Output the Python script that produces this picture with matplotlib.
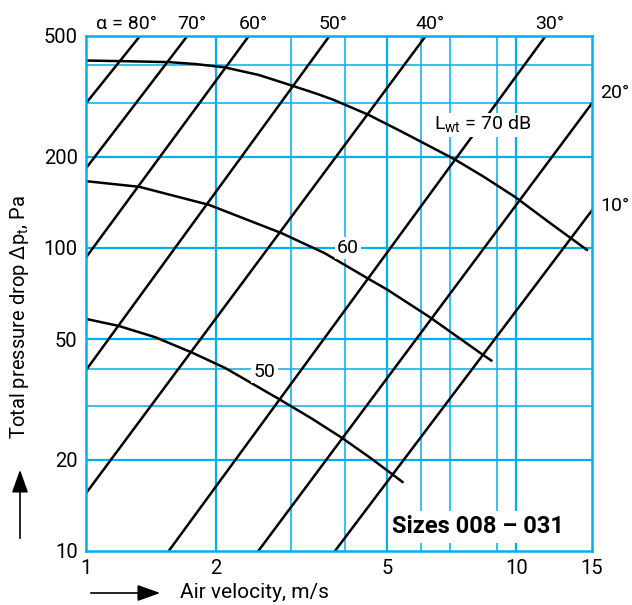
import matplotlib
matplotlib.use('Agg')
import matplotlib.pyplot as plt
from matplotlib.patches import FancyArrowPatch

plt.rcParams['font.family'] = ['Roboto', 'DejaVu Sans']
plt.rcParams['mathtext.fontset'] = 'custom'
plt.rcParams['mathtext.rm'] = 'Roboto'

# angle lines (alpha), given by two end points (v in m/s, dp in Pa)
angles = ['80°', '70°', '60°', '50°', '40°', '30°', '20°', '10°']
ang_v0 = [1.0, 1.0, 1.0, 1.0, 1.0, 1.557, 2.515, 3.79]
ang_p0 = [300, 183, 93, 39.5, 15.5, 10, 10, 10]
ang_v1 = [1.335, 1.72, 2.39, 3.68, 6.16, 11.7, 15.0, 15.0]
ang_p1 = [500, 500, 500, 500, 500, 500, 300, 133]

# sound power level curves L_wt = 70, 60, 50 dB
lw70_v = [1.0, 1.22, 1.56, 1.8, 2.1, 2.52, 3.03, 3.47, 3.78, 4.53, 5.41, 7.19, 8.44, 9.98, 12.0, 14.6]
lw70_p = [415, 413, 410, 404, 394, 372, 342, 321, 307, 275, 242, 196, 171, 146.6, 120.6, 98.5]
lw60_v = [1.0, 1.33, 1.93, 2.85, 3.59, 4.51, 5.0, 6.27, 8.27, 8.75]
lw60_p = [166, 159, 138.7, 111.8, 96, 79.4, 73, 59.3, 44.9, 42.5]
lw50_v = [1.0, 1.19, 1.45, 1.76, 2.11, 2.8, 3.34, 3.92, 4.6, 5.44]
lw50_p = [58.3, 55.3, 50.7, 45.2, 40.1, 31.8, 27.4, 23.7, 20.2, 16.9]

grid_x_major = [2, 5, 10]
grid_x_minor = [3, 4, 6, 7, 9]
grid_y_major = [20, 50, 100, 200]
grid_y_minor = [30, 40, 300, 400]

xticks = [1, 2, 5, 10, 15]
yticks = [10, 20, 50, 100, 200, 500]

blue = '#00AEEF'

fig = plt.figure(figsize=(6.32, 6.05), dpi=100)
ax = fig.add_axes([86 / 632, 1 - 551 / 605, 506 / 632, 515 / 605])
ax.set_xscale('log')
ax.set_yscale('log')
ax.set_xlim(1, 15)
ax.set_ylim(10, 500)

for g in grid_x_major:
    ax.axvline(g, color=blue, lw=1.6, zorder=1)
for g in grid_x_minor:
    ax.axvline(g, color=blue, lw=1.1, zorder=1)
for g in grid_y_major:
    ax.axhline(g, color=blue, lw=1.6, zorder=1)
for g in grid_y_minor:
    ax.axhline(g, color=blue, lw=1.1, zorder=1)

for s in ax.spines.values():
    s.set_color(blue)
    s.set_linewidth(1.8)
    s.set_zorder(5)

for i in range(len(angles)):
    ax.plot([ang_v0[i], ang_v1[i]], [ang_p0[i], ang_p1[i]], color='black', lw=1.8, zorder=3)

for v, p in [(lw70_v, lw70_p), (lw60_v, lw60_p), (lw50_v, lw50_p)]:
    ax.plot(v, p, color='black', lw=1.8, zorder=3, solid_joinstyle='round')

# angle labels
for i in range(6):
    txt = angles[i]
    dx = 3
    if i == 0:
        txt = 'α = ' + txt
        dx = -10
    ax.annotate(txt, (ang_v1[i], 500), xytext=(dx, 2), textcoords='offset points',
                ha='center', va='bottom', fontsize=14, annotation_clip=False)
ax.annotate(angles[6], (15, 324), xytext=(6, 0), textcoords='offset points',
            ha='left', va='center', fontsize=14, annotation_clip=False)
ax.annotate(angles[7], (15, 137), xytext=(6, 0), textcoords='offset points',
            ha='left', va='center', fontsize=14, annotation_clip=False)

wb = dict(facecolor='white', edgecolor='none', pad=1.5)
ax.text(4.06, 100, '60', ha='center', va='center', fontsize=14, bbox=wb, zorder=4)
ax.text(2.6, 39, '50', ha='center', va='center', fontsize=14, bbox=wb, zorder=4)
ax.text(6.45, 255, r'L$_\mathregular{wt}$ = 70 dB', ha='left', va='center', fontsize=14,
        bbox=dict(facecolor='white', edgecolor='none', pad=1), zorder=4)
ax.text(8.15, 12.0, 'Sizes 008 – 031', ha='center', va='center', fontsize=17,
        fontweight='bold', bbox=dict(facecolor='white', edgecolor='none', pad=3), zorder=4)

ax.set_xticks(xticks)
ax.set_xticklabels([str(t) for t in xticks])
ax.set_yticks(yticks)
ax.set_yticklabels([str(t) for t in yticks])
ax.minorticks_off()
ax.tick_params(length=0, labelsize=14.5, pad=6)

fig.text(20 / 632, 1 - 317 / 605, r'Total pressure drop Δp$_\mathregular{t}$, Pa', rotation=90,
         ha='center', va='center', fontsize=14.5)
fig.text(180 / 632, 1 - 593 / 605, 'Air velocity, m/s', ha='left', va='center', fontsize=15)

arrow = dict(arrowstyle='-|>,head_length=0.7,head_width=0.25', color='black', lw=1.2,
             mutation_scale=20, transform=fig.transFigure)
fig.add_artist(FancyArrowPatch((20 / 632, 1 - 541 / 605), (20 / 632, 1 - 467 / 605), **arrow))
fig.add_artist(FancyArrowPatch((88 / 632, 1 - 593 / 605), (163 / 632, 1 - 593 / 605), **arrow))

fig.savefig('out.png', dpi=100)
